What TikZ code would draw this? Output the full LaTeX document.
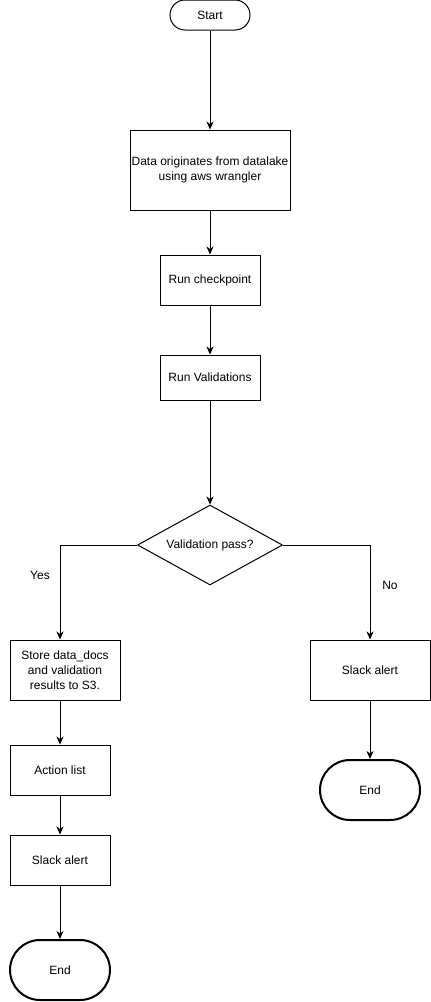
\documentclass[tikz,border=0pt]{standalone}
\usepackage{fontspec}
\setmainfont{Liberation Sans}
\usetikzlibrary{arrows.meta,shapes.geometric}
\begin{document}
\begin{tikzpicture}[x=1pt,y=-1pt,
        font=\fontsize{12}{15}\selectfont,
        box/.style={draw,line width=1pt,inner sep=0pt,align=center,fill=white},
        terminal/.style={box,rounded corners=#1},
        decision/.style={box,diamond,minimum width=145pt,minimum height=80pt,shape aspect=2},
        arr/.style={line width=1pt,-{Stealth[length=8pt,width=7pt,inset=2.5pt]}}]
        \useasboundingbox[fill=white] (0,0) rectangle (431,1002);
        \node[terminal=15pt,minimum width=80pt,minimum height=30pt] (start) at (210,15) {Start};
        \node[box,minimum width=160pt,minimum height=80pt] (origin) at (210,170) {Data originates from datalake\\using aws wrangler};
        \node[box,minimum width=100pt,minimum height=50pt] (checkpoint) at (210,280) {Run checkpoint};
        \node[box,minimum width=100pt,minimum height=45pt] (validate) at (210,377.5) {Run Validations};
        \node[decision] (pass) at (210,545) {Validation pass?};
        \node[box,minimum width=110pt,minimum height=60pt] (store) at (65,670) {Store data\_docs\\and validation\\results to S3.};
        \node[box,minimum width=100pt,minimum height=50pt] (action) at (60,770) {Action list};
        \node[box,minimum width=100pt,minimum height=50pt] (alertyes) at (60,860) {Slack alert};
        \node[terminal=30pt,line width=2pt,minimum width=100pt,minimum height=60pt] (endyes) at (60,970) {End};
        \node[box,minimum width=120pt,minimum height=60pt] (alertno) at (370,670) {Slack alert};
        \node[terminal=30pt,line width=2pt,minimum width=100pt,minimum height=60pt] (endno) at (370,790) {End};
        \node (yes) at (40,575) {Yes};
        \node (no) at (390,585) {No};
        \draw[arr] (start) -- (origin);
        \draw[arr] (origin) -- (checkpoint);
        \draw[arr] (checkpoint) -- (validate);
        \draw[arr] (validate) -- (pass);
        \draw[arr] (pass.west) -| (store.north -| action.north);
        \draw[arr] (store.south -| action.north) -- (action);
        \draw[arr] (action) -- (alertyes);
        \draw[arr] (alertyes) -- (endyes);
        \draw[arr] (pass.east) -| (alertno);
        \draw[arr] (alertno) -- (endno);
\end{tikzpicture}
\end{document}
